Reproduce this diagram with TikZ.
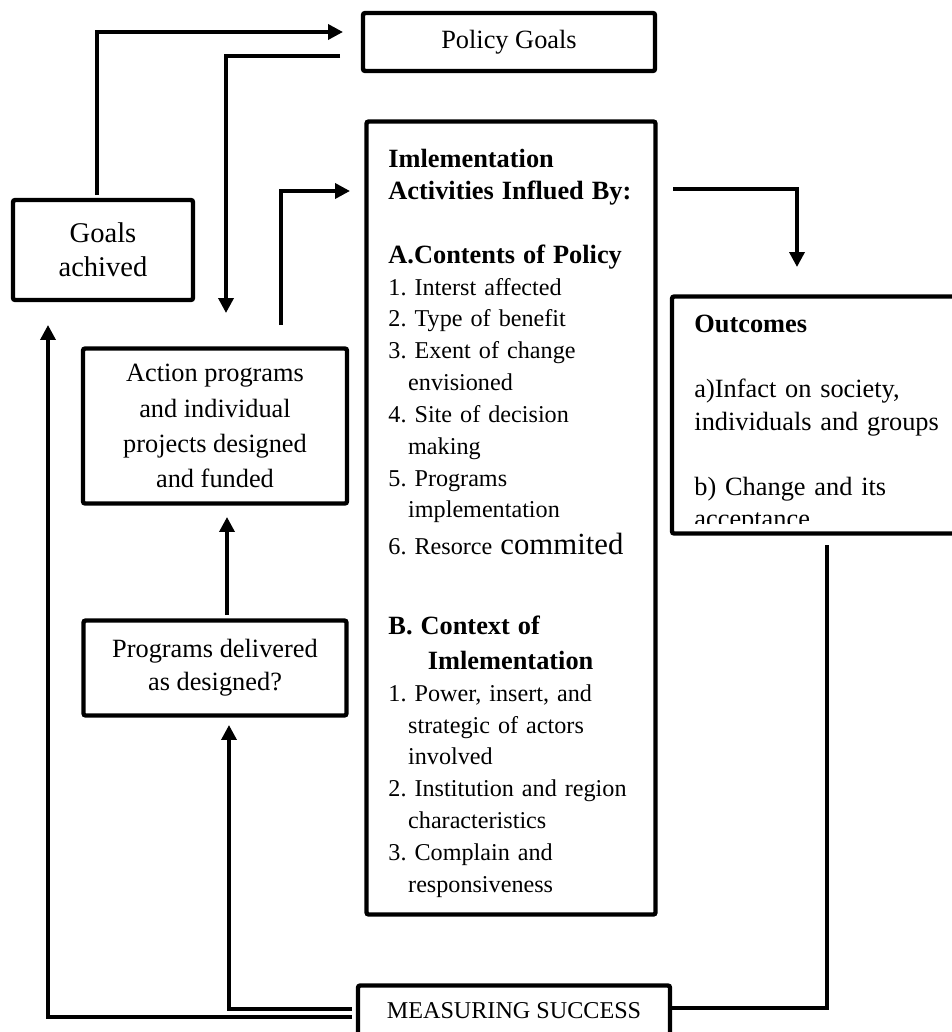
\documentclass[tikz,border=0pt]{standalone}
\usepackage{fontspec}
\setmainfont{Liberation Serif}
\usetikzlibrary{arrows.meta}
\newcommand{\fsz}[2]{\fontsize{#1}{#2}\selectfont\frenchspacing}

\begin{document}
\begin{tikzpicture}[x=0.016cm, y=-0.016cm,
    box/.style={draw, line width=2pt, rounded corners=1pt, inner sep=0pt, align=center},
    flow/.style={line width=1.6pt, -{Triangle[length=6.8pt,width=6.8pt]}},
    link/.style={line width=1.6pt},
    txt/.style={anchor=north west, inner sep=0pt, align=left, text width=125pt}]
    \useasboundingbox (0,0) rectangle (951,1032);

    %policy goals
    \node[box, minimum width=292*0.016cm, minimum height=58*0.016cm, font=\fsz{12}{14}]
        (policy) at (509,42) {Policy Goals};

    %goals achived
    \node[box, minimum width=180*0.016cm, minimum height=100*0.016cm, font=\fsz{13}{15.5}]
        (goals) at (103,250) {Goals\\achived};

    %action programs
    \node[box, minimum width=264*0.016cm, minimum height=155*0.016cm, font=\fsz{12}{16}]
        (action) at (215,426) {Action programs\\and individual\\projects designed\\and funded};

    %programs delivered
    \node[box, minimum width=263*0.016cm, minimum height=95*0.016cm, font=\fsz{12}{15}]
        (programs) at (215,668) {Programs delivered\\as designed?};

    %implementation box
    \node[box, minimum width=289*0.016cm, minimum height=793*0.016cm]
        (impl) at (511,518) {};
    \node[txt, font=\fsz{11}{14.5}] (impltext) at (388,149) {%
        {\fsz{12}{14.5}\bfseries Imlementation\\Activities Influed By:}\\[14.5pt]
        {\fsz{12}{14.5}\bfseries A.Contents of Policy}\\
        1. Interst affected\\
        2. Type of benefit\\
        3. Exent of change\\
        \hspace*{9pt}envisioned\\
        4. Site of decision\\
        \hspace*{9pt}making\\
        5. Programs\\
        \hspace*{9pt}implementation\\[2pt]
        6. Resorce {\fsz{14}{14.5}commited}\\[22pt]
        {\fsz{12}{14.5}\bfseries B. Context of\\[1.5pt] \hspace*{18pt}Imlementation}\\
        1. Power, insert, and\\
        \hspace*{9pt}strategic of actors\\
        \hspace*{9pt}involved\\
        2. Institution and region\\
        \hspace*{9pt}characteristics\\
        3. Complain and\\
        \hspace*{9pt}responsiveness};

    %outcomes box
    \node[box, minimum width=288*0.016cm, minimum height=237*0.016cm]
        (outcomes) at (816,415) {};
    \begin{scope}
        \clip (672,297) rectangle (951,523);
        \node[txt, font=\fsz{12}{14.8}] (outtext) at (694,315) {%
            {\bfseries Outcomes}\\[14.8pt]
            a)Infact on society,\\
            individuals and groups\\[14.8pt]
            b) Change and its\\
            acceptance};
    \end{scope}

    %measuring success
    \node[box, minimum width=312*0.016cm, minimum height=51*0.016cm, font=\fsz{11}{13}]
        (measure) at (514,1011) {MEASURING SUCCESS};

    %connector ends
    \coordinate (goalsout) at (97,195);
    \coordinate (policyin) at (343,32);
    \coordinate (policyout) at (340,56);
    \coordinate (actionin) at (226,313);
    \coordinate (actionout) at (281,325);
    \coordinate (implin) at (350,191);
    \coordinate (implout) at (673,189);
    \coordinate (outin) at (797,267);
    \coordinate (outout) at (827,545);
    \coordinate (progout) at (227,615);
    \coordinate (actionbot) at (227,517);
    \coordinate (progin) at (229,725);
    \coordinate (goalsin) at (48,325);
    \coordinate (measleft) at (352,1009);
    \coordinate (measlow) at (352,1017);
    \coordinate (measright) at (670,1008);

    %arrows
    \draw[flow] (goalsout) |- (policyin);
    \draw[flow] (policyout) -| (actionin);
    \draw[flow] (actionout) |- (implin);
    \draw[flow] (implout) -| (outin);
    \draw[flow] (progout) -- (actionbot);
    \draw[flow] (measleft) -| (progin);
    \draw[flow] (measlow) -| (goalsin);
    \draw[link] (outout) |- (measright);
\end{tikzpicture}
\end{document}
